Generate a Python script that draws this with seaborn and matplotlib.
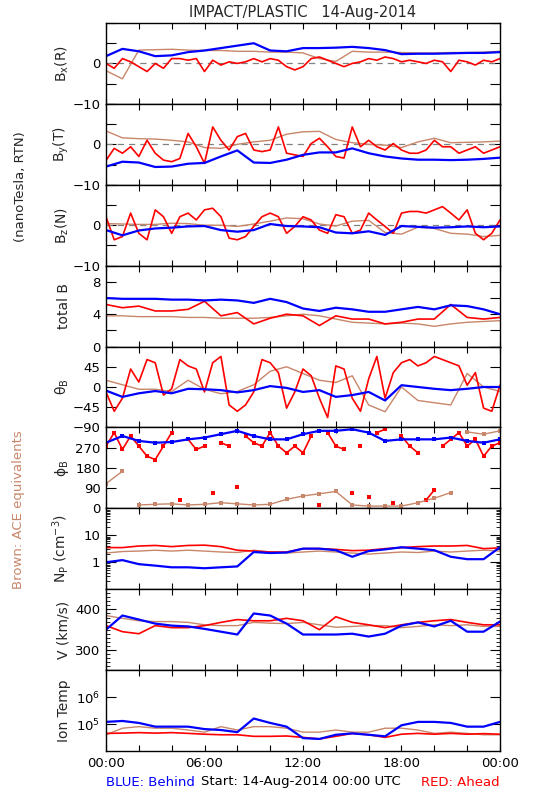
import numpy as np
import pandas as pd
import matplotlib
matplotlib.use('Agg')
import matplotlib.pyplot as plt
import seaborn as sns
from matplotlib.ticker import FixedLocator, LogLocator, MultipleLocator, NullFormatter

BLUE = '#0000ff'
RED = '#ff0000'
BROWN = '#c8866a'

# time grids (hours after 14-Aug-2014 00:00 UTC)
hours = np.arange(25)
half_hours = np.arange(49) / 2.0

# ---- B_x (R), nT
bx_blue = [1.8, 3.6, 3.0, 1.8, 2.0, 2.8, 3.2, 3.8, 4.4, 5.0, 3.2, 3.0, 3.8,
           3.8, 3.9, 4.1, 3.8, 3.3, 2.3, 2.4, 2.4, 2.5, 2.6, 2.6, 2.8]
bx_brown = [-1.8, -3.8, 3.3, 3.4, 3.5, 3.3, 3.2, 3.2, 3.0, 3.0, 2.8, 2.8, 2.6,
            1.2, 0.5, 3.0, 2.8, 2.8, 2.7, 2.6, 2.6, 2.7, 2.7, 2.8, 3.0]
bx_red = [0, -1.2, 1.2, 0.4, -0.8, -2, 0, -1.2, 1.2, 1.2, 0.8, 1.2, -2, 0.8,
          -0.4, 0.4, 0, 0.4, 1.2, 0.4, 1.2, 0.8, -0.8, -1.6, -0.8, 1.2, 1.6,
          0.8, 0, -0.8, 0, 0.4, 1.2, 0.8, 1.6, 1.2, 0.4, 0.8, 0.4, 0, 0.8,
          0.4, -2, 0.8, 0.4, -0.4, 0.8, 0.4, 1.2]

# ---- B_y (T), nT
by_blue = [-5.5, -4.3, -4.5, -5.6, -5.5, -4.8, -4.6, -3.0, -1.5, -4.5, -4.6,
           -3.8, -2.6, -2.0, -2.0, -1.0, -2.2, -3.0, -3.5, -3.8, -3.8, -3.9,
           -3.8, -3.6, -3.3]
by_brown = [3.3, 1.6, 1.4, 1.3, 1.0, 0.6, -0.8, -1.0, 0.0, 0.6, 1.0, 2.5, 3.1,
            3.2, 1.2, 0.4, 0.0, -0.2, -0.8, 0.6, 1.5, 0.4, 0.5, 0.6, 0.8]
by_red = [-4, -1, -2.2, -0.6, -3, 1, -2.2, -3.9, -4.3, -3.5, 2.7, -0.6, -4.7,
          4.3, 1, -1.4, 1.9, 2.7, -1.4, -1.8, -1.4, 4.3, -2.2, -2.6, -3, 0.2,
          1.5, -0.6, -3, -3.4, 4.3, -0.6, 1, -0.6, -1.4, 0.2, -1.4, -2.2,
          -2.2, -1.4, 1, -0.6, -0.6, -2.2, -1.4, -0.6, -2.2, -1.4, -0.6]

# ---- B_z (N), nT
bz_blue = [-1.2, -2.5, -1.3, -0.8, -0.6, -0.3, -0.2, -1.2, -1.6, -1.2, 0.3,
           -0.2, -0.3, -0.5, -1.8, -2.0, -1.5, -2.4, -0.2, -0.4, -0.6, -0.5,
           -0.3, -0.5, -0.3]
bz_brown = [0.4, 0.3, 0.2, 0.2, 0.5, 0.4, 0.0, 0.0, -0.3, 0.3, 1.0, 1.8, 1.6,
            0.3, -0.2, 1.0, 1.2, -1.8, -2.2, -0.5, -0.8, -2.0, -2.2, -2.8, -2.5]
bz_red = [2.1, -3.6, -2.8, 3, -2, -3.6, 3.8, 2.1, -2, 2.1, 3, 1.3, 3.8, 4.2,
          2.1, -3.2, -3.6, -2.8, -0.3, 2.1, 3, 2.1, -2, -0.3, 2.1, 1.3, -1.2,
          -2, 2.6, 2.1, -2, -1.2, 3, 1.3, -0.3, -2, 3, 3.4, 3.4, 3, 3.8, 4.6,
          3, 1.3, 3.8, -2, -3.6, -2, 1.3]

# ---- total B, nT
bt_blue = [6.0, 5.9, 5.9, 5.9, 5.8, 5.8, 5.7, 5.8, 5.7, 5.4, 5.9, 5.5, 4.7,
           4.4, 4.8, 4.6, 4.3, 4.3, 4.6, 4.9, 4.6, 5.1, 5.0, 4.6, 4.0]
bt_brown = [3.8, 3.8, 3.7, 3.7, 3.7, 3.6, 3.6, 3.5, 3.5, 3.5, 3.6, 3.8, 4.0,
            3.8, 3.4, 3.0, 2.9, 2.8, 2.9, 2.8, 2.5, 2.8, 3.0, 3.1, 3.2]
bt_red = [5.2, 4.8, 5.0, 4.4, 4.4, 4.6, 5.6, 3.8, 4.2, 2.8, 3.5, 4.0, 3.8,
          2.6, 3.8, 3.4, 3.4, 2.8, 3.0, 3.4, 3.4, 5.2, 3.6, 3.4, 3.6]

# ---- theta_B, deg
th_blue = [-8, -22, -14, -9, -14, -4, -5, -7, -12, -7, 2, -2, -11, -7, -22,
           -18, -11, -30, 4, 0, -4, -7, -4, 0, 0]
th_brown = [15, 5, -5, -5, -10, 15, -5, -15, -10, 5, 35, 45, 30, 15, 10, 25,
            -40, -55, 0, -30, -35, -40, 30, 0, -10]
th_red = [-11, -54, -25, 40, 11, 61, 54, -18, -4, 61, 47, 40, -11, 54, 68,
          -40, -54, -40, -11, 61, 54, 32, -47, -11, 40, 25, -25, -68, 47, 40,
          -25, -54, 18, 68, -25, 32, 54, 61, 47, 54, 68, 61, 54, 47, 4, 32,
          -47, -54, 4]

# ---- phi_B, deg
ph_blue = [292, 322, 300, 292, 295, 307, 315, 330, 345, 322, 307, 307, 330,
           345, 345, 352, 337, 300, 307, 307, 307, 315, 300, 292, 307]
ph_brown = [110, 165, 15, 18, 20, 15, 18, 25, 20, 15, 18, 40, 55, 65, 75, 15,
            10, 10, 10, 25, 45, 70, 340, 330, 345]
ph_red = [277, 337, 262, 322, 277, 232, 217, 277, 337, 37, 307, 262, 277, 67,
          292, 277, 97, 322, 292, 277, 337, 277, 247, 277, 247, 322, 15, 337,
          277, 262, 67, 277, 52, 337, 352, 22, 322, 277, 247, 37, 82, 277,
          307, 337, 277, 307, 232, 277, 292]

# ---- N_p, cm^-3
np_blue = [1.0, 1.2, 0.85, 0.75, 0.65, 0.65, 0.6, 0.65, 0.7, 2.4, 2.2, 2.3,
           3.2, 3.2, 2.8, 1.6, 2.6, 3.0, 3.6, 3.2, 2.8, 1.6, 1.3, 1.3, 3.6]
np_brown = [2.2, 2.5, 2.6, 2.8, 2.6, 2.8, 2.6, 2.4, 2.3, 2.8, 2.4, 2.2, 2.4,
            2.6, 2.4, 2.2, 2.0, 2.2, 2.4, 2.3, 2.6, 2.4, 2.6, 2.8, 2.6]
np_red = [3.5, 3.5, 4.0, 4.2, 3.8, 4.2, 4.3, 3.8, 2.8, 2.6, 2.4, 2.4, 3.2,
          3.2, 3.0, 2.7, 2.8, 3.2, 3.5, 3.8, 4.0, 4.0, 4.2, 3.2, 3.4]

# ---- V, km/s
v_blue = [350, 385, 375, 365, 360, 358, 352, 345, 338, 390, 385, 365, 338,
          338, 338, 340, 333, 340, 360, 368, 358, 372, 345, 345, 370]
v_brown = [385, 378, 372, 370, 370, 368, 362, 360, 360, 368, 366, 365, 368,
           362, 356, 358, 360, 360, 355, 358, 362, 360, 362, 358, 358]
v_red = [360, 345, 340, 360, 355, 355, 360, 368, 375, 372, 372, 378, 372,
         350, 382, 368, 362, 355, 362, 368, 372, 375, 368, 362, 362]

# ---- ion temperature, K
t_blue = [1.2e5, 1.3e5, 1.1e5, 8e4, 8e4, 8e4, 6.5e4, 6e4, 5e4, 1.6e5, 1.1e5,
          8e4, 3e4, 2.8e4, 4e4, 4.5e4, 4e4, 3.5e4, 9e4, 1.2e5, 1.2e5, 1.1e5,
          8e4, 8e4, 1.2e5]
t_brown = [4e4, 7e4, 8e4, 7e4, 7e4, 6e4, 5e4, 8e4, 6e4, 8e4, 8e4, 7e4, 5e4,
           5e4, 6e4, 5e4, 5e4, 7e4, 7e4, 6e4, 4.5e4, 5e4, 4.5e4, 4e4, 4e4]
t_red = [4.5e4, 4.6e4, 4.8e4, 4.6e4, 4.8e4, 4.5e4, 4.2e4, 4.0e4, 4.0e4,
         3.5e4, 3.5e4, 3.6e4, 3.2e4, 2.8e4, 3.5e4, 4.5e4, 4.0e4, 3.2e4,
         4.2e4, 4.5e4, 4.2e4, 4.5e4, 4.2e4, 4.4e4, 4.2e4]

x_ticks = [0, 6, 12, 18, 24]
x_labels = ['00:00', '06:00', '12:00', '18:00', '00:00']

panels = [
    dict(label='B$_x$(R)', blue=bx_blue, brown=bx_brown, red=bx_red,
         ylim=(-10, 10), major=[-10, -5, 0, 5, 10], labels=['\u221210', '', '0', '', ''], zero=True),
    dict(label='B$_y$(T)', blue=by_blue, brown=by_brown, red=by_red,
         ylim=(-10, 10), major=[-10, -5, 0, 5, 10], labels=['\u221210', '', '0', '', ''], zero=True),
    dict(label='B$_z$(N)', blue=bz_blue, brown=bz_brown, red=bz_red,
         ylim=(-10, 10), major=[-10, -5, 0, 5, 10], labels=['\u221210', '', '0', '', ''], zero=True),
    dict(label='total B', blue=bt_blue, brown=bt_brown, red=bt_red,
         ylim=(0, 10), major=[0, 2, 4, 6, 8, 10], labels=['0', '', '4', '', '8', '']),
    dict(label=r'$\theta_B$', blue=th_blue, brown=th_brown, red=th_red,
         ylim=(-90, 90), major=[-90, -45, 0, 45, 90], labels=['\u221290', '\u221245', '0', '45', '']),
    dict(label=r'$\phi_B$', blue=ph_blue, brown=ph_brown, red=ph_red,
         ylim=(0, 360), major=[0, 90, 180, 270, 360], labels=['0', '90', '180', '270', ''], wrap=True),
    dict(label='N$_P$ (cm$^{-3}$)', blue=np_blue, brown=np_brown, red=np_red,
         ylim=(0.1, 100), major=[1, 10], labels=['1', '10'], log=True, minor_log=True),
    dict(label='V (km/s)', blue=v_blue, brown=v_brown, red=v_red,
         ylim=(250, 450), major=[300, 400], labels=['300', '400'], minor=10),
    dict(label='Ion Temp', blue=t_blue, brown=t_brown, red=t_red,
         ylim=(1e4, 1e7), major=[1e5, 1e6], labels=['10$^5$', '10$^6$'], log=True),
]


def time_for(v):
    return half_hours if len(v) == len(half_hours) else hours


def wrap_units(v):
    # split the angle trace wherever it jumps across the 0/360 seam
    v = np.asarray(v, dtype=float)
    return np.concatenate([[0], np.cumsum(np.abs(np.diff(v)) >= 150)])


def draw_series(ax, v, color, lw, wrap):
    t = time_for(v)
    if wrap:
        sns.lineplot(x=t, y=v, units=wrap_units(v), estimator=None, ax=ax,
                     color=color, lw=lw, legend=False)
        sns.scatterplot(x=t, y=v, ax=ax, color=color, s=7, marker='s',
                        linewidth=0, legend=False)
    else:
        sns.lineplot(x=t, y=v, estimator=None, ax=ax, color=color, lw=lw,
                     legend=False)


sns.set_style('ticks')
plt.rcParams['font.family'] = ['DejaVu Sans']
plt.rcParams['mathtext.default'] = 'regular'

fig = plt.figure(figsize=(5.5, 8), dpi=100)
gs = fig.add_gridspec(len(panels), 1, left=106 / 550, right=500 / 550,
                      top=1 - 23 / 800, bottom=1 - 751 / 800, hspace=0)

for i, p in enumerate(panels):
    ax = fig.add_subplot(gs[i])
    wrap = p.get('wrap', False)
    if p.get('log'):
        ax.set_yscale('log')
    if p.get('zero'):
        ax.axhline(0, color='gray', lw=0.9, ls=(0, (5, 4)), zorder=1)
    draw_series(ax, p['brown'], BROWN, 1.0, wrap)
    draw_series(ax, p['red'], RED, 1.2, wrap)
    draw_series(ax, p['blue'], BLUE, 1.6, wrap)

    ax.set_xlim(0, 24)
    ax.set_ylim(*p['ylim'])
    ax.xaxis.set_major_locator(FixedLocator(x_ticks))
    ax.xaxis.set_minor_locator(MultipleLocator(2))
    if i == len(panels) - 1:
        ax.set_xticklabels(x_labels)
    else:
        ax.set_xticklabels([])
    ax.yaxis.set_major_locator(FixedLocator(p['major']))
    ax.set_yticklabels(p['labels'])
    if p.get('minor_log'):
        ax.yaxis.set_minor_locator(LogLocator(base=10, subs=np.arange(2, 10)))
        ax.yaxis.set_minor_formatter(NullFormatter())
    elif p.get('log'):
        ax.yaxis.set_minor_locator(FixedLocator([]))
    elif p.get('minor'):
        ax.yaxis.set_minor_locator(MultipleLocator(p['minor']))
    else:
        ax.yaxis.set_minor_locator(FixedLocator([]))

    ax.tick_params(which='both', direction='in', top=True, right=True,
                   labelsize=9.5, colors='black', pad=4)
    ax.tick_params(axis='y', which='major', length=7, width=0.8)
    ax.tick_params(axis='y', which='minor', length=3, width=0.6)
    ax.tick_params(axis='x', which='both', length=4, width=0.8)
    for s in ax.spines.values():
        s.set_linewidth(1.0)
        s.set_color('black')
    ax.set_xlabel('')
    ax.set_ylabel(p['label'], fontsize=10)
    ax.yaxis.set_label_coords(-0.09, 0.5)

fig.text(303 / 550, 1 - 12 / 800, 'IMPACT/PLASTIC   14-Aug-2014',
         ha='center', va='center', fontsize=10.5)
fig.text(21 / 550, 1 - 187 / 800, '(nanoTesla, RTN)', rotation=90,
         ha='center', va='center', fontsize=9.5)
fig.text(19 / 550, 1 - 510 / 800, 'Brown: ACE equivalents', rotation=90,
         ha='center', va='center', fontsize=9.5, color=BROWN)
fig.text(106 / 550, 1 - 783 / 800, 'BLUE: Behind', ha='left', va='center',
         fontsize=9.5, color=BLUE)
fig.text(201 / 550, 1 - 781 / 800, 'Start: 14-Aug-2014 00:00 UTC',
         ha='left', va='center', fontsize=9.5, color='black')
fig.text(500 / 550, 1 - 783 / 800, 'RED: Ahead', ha='right', va='center',
         fontsize=9.5, color=RED)

fig.savefig('out.png', dpi=100, facecolor='white')
